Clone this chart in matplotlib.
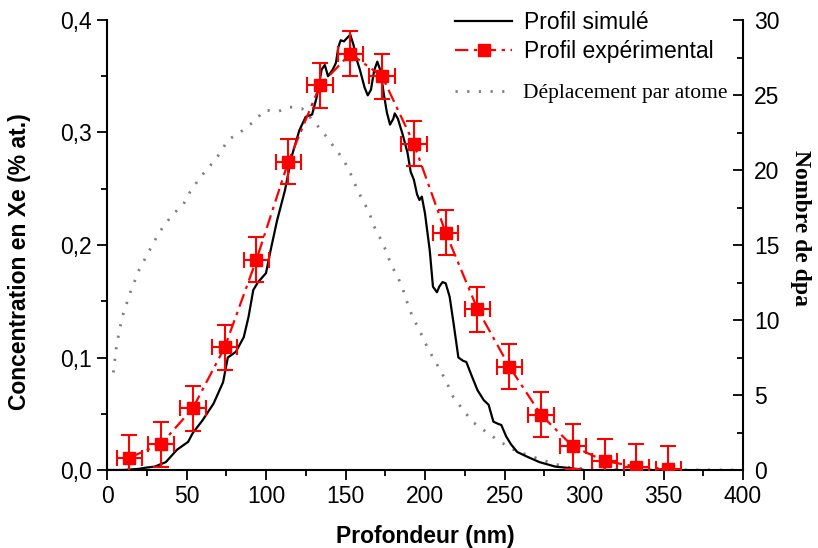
import matplotlib
matplotlib.use("Agg")
import matplotlib.pyplot as plt
from matplotlib.lines import Line2D
from matplotlib.ticker import MultipleLocator, FuncFormatter

# ---------------- data ----------------
sim_x = [0, 10, 20, 24, 30, 37, 44, 51, 54, 60, 67, 73, 76, 81, 86, 89, 92, 95, 100, 103,
         107, 112, 116, 121, 125, 129, 132, 135, 137, 139, 142, 144, 145.5, 147, 149, 151,
         153, 155, 157, 159, 162, 164, 166, 168, 170, 172, 174, 176, 178, 180, 181, 183,
         186, 189, 191, 193, 195, 196.5, 198, 200, 203, 205, 207.5, 209, 211, 213, 215.5,
         218, 221, 224, 226, 229, 233, 237, 240, 243, 246, 248, 251, 254, 258, 264, 272,
         282, 289, 295, 300]
sim_y = [0, 0, 0.001, 0.002, 0.003, 0.007, 0.018, 0.025, 0.033, 0.044, 0.059, 0.078, 0.100,
         0.105, 0.118, 0.136, 0.160, 0.167, 0.175, 0.196, 0.222, 0.249, 0.278, 0.302, 0.314,
         0.316, 0.332, 0.356, 0.360, 0.350, 0.356, 0.362, 0.376, 0.382, 0.381, 0.384, 0.387,
         0.378, 0.365, 0.356, 0.340, 0.333, 0.338, 0.355, 0.363, 0.355, 0.335, 0.318, 0.307,
         0.312, 0.317, 0.312, 0.298, 0.282, 0.265, 0.258, 0.245, 0.240, 0.243, 0.228, 0.195,
         0.163, 0.158, 0.163, 0.167, 0.166, 0.154, 0.130, 0.100, 0.097, 0.096, 0.085, 0.071,
         0.062, 0.058, 0.043, 0.041, 0.040, 0.030, 0.023, 0.016, 0.012, 0.007, 0.003, 0.002,
         0.001, 0]

exp_x = [14, 34, 54, 74, 94, 114, 134, 153, 173, 193, 213, 233, 253, 273, 293, 313, 333, 353]
exp_y = [0.011, 0.023, 0.055, 0.109, 0.187, 0.274, 0.342, 0.370, 0.350, 0.290, 0.211,
         0.143, 0.092, 0.049, 0.021, 0.008, 0.003, 0.001]
exp_yerr = [0.02] * len(exp_x)
exp_xerr = [8] * len(exp_x)

dpa_x = [4, 6, 9.3, 14.5, 20, 26, 30, 34.6, 41, 48, 52, 58.5, 65, 71, 76, 83.6, 92, 99.4,
         107.5, 115, 122.6, 129.6, 136, 143, 148.7, 153, 156.6, 160.2, 164.8, 167.7, 172.1,
         175.5, 178.6, 183.2, 186.4, 189.1, 192.2, 196.2, 200, 205, 209.4, 213.8, 217.6,
         224, 230, 239, 247, 256.6, 270, 280, 289, 298.7, 320, 350, 395]
dpa_y = [6.5, 8.3, 10.1, 11.8, 13.3, 14.5, 15.3, 16.1, 17.0, 17.7, 18.5, 19.5, 20.3, 21.1,
         22.0, 22.5, 23.2, 24.0, 23.9, 24.2, 24.1, 23.3, 22.5, 21.5, 20.7, 19.8, 18.9, 18.1,
         17.2, 16.3, 15.4, 14.6, 13.7, 12.8, 11.95, 11.07, 10.2, 9.4, 8.5, 7.5, 6.7, 5.8,
         4.9, 4.0, 3.2, 2.5, 1.9, 1.3, 0.8, 0.45, 0.2, 0.1, 0.03, 0.01, 0.0]

labels = ["Profil simulé", "Profil expérimental", "Déplacement par atome"]
xlabel = "Profondeur (nm)"
ylabel = "Concentration en Xe (% at.)"
y2label = "Nombre de dpa"

# ---------------- style ----------------
SANS = ["Liberation Sans", "Arial", "DejaVu Sans"]
SERIF = ["Liberation Serif", "Times New Roman", "DejaVu Serif"]
plt.rcParams["font.family"] = SANS
FS = 16.5

fig = plt.figure(figsize=(8.18, 5.48), dpi=100)
ax = fig.add_axes([107 / 818, 1 - 470 / 548, 636 / 818, 450 / 548])
ax2 = ax.twinx()
ax.set_zorder(ax2.get_zorder() + 1)
ax.patch.set_visible(False)

red = "#ff0000"
grey = "#808080"
dashdot = (0, (6, 2.5, 1.5, 2.5))
dotted = (0, (0.8, 3.4))

ax2.plot(dpa_x, dpa_y, color=grey, lw=2.0, linestyle=dotted)
ax.plot(sim_x, sim_y, color="black", lw=1.6, zorder=3)
ax.errorbar(exp_x, exp_y, yerr=exp_yerr, xerr=exp_xerr, color=red, ecolor=red,
            elinewidth=1.5, capsize=6, capthick=1.5, marker="s", markersize=8,
            linestyle=dashdot, lw=1.6, zorder=4)

ax.set_xlim(0, 400)
ax.set_ylim(0, 0.4)
ax2.set_ylim(0, 30)

for a in (ax, ax2):
    a.spines["top"].set_visible(False)
ax.spines["right"].set_visible(False)
ax2.spines["left"].set_visible(False)
ax2.spines["bottom"].set_visible(False)
for s in ("left", "bottom"):
    ax.spines[s].set_linewidth(1.5)
ax2.spines["right"].set_linewidth(1.5)

ax.xaxis.set_major_locator(MultipleLocator(50))
ax.xaxis.set_minor_locator(MultipleLocator(25))
ax.yaxis.set_major_locator(MultipleLocator(0.1))
ax.yaxis.set_minor_locator(MultipleLocator(0.05))
ax.yaxis.set_major_formatter(FuncFormatter(lambda v, p: f"{v:.1f}".replace(".", ",")))
ax2.yaxis.set_major_locator(MultipleLocator(5))
ax2.yaxis.set_minor_locator(MultipleLocator(2.5))

ax.tick_params(axis="both", which="major", direction="out", length=7, width=1.3,
               labelsize=FS, pad=4)
ax.tick_params(axis="both", which="minor", direction="out", length=4, width=1.3)
ax2.tick_params(axis="y", which="major", direction="in", length=7, width=1.3,
                labelsize=FS, pad=8)
ax2.tick_params(axis="y", which="minor", direction="in", length=4, width=1.3)

ax.set_xlabel(xlabel, fontsize=FS, fontweight="bold", labelpad=12)
ax.set_ylabel(ylabel, fontsize=FS, fontweight="bold", va="center")
ax.yaxis.set_label_coords(-0.137, 0.462)
ax2.set_ylabel(y2label, fontsize=FS + 0.5, fontweight="bold", family=SERIF,
               rotation=270, va="center")
ax2.yaxis.set_label_coords(1.09, 0.538)

# legend
h1 = Line2D([], [], color="black", lw=1.6)
h2 = Line2D([], [], color=red, lw=1.6, marker="s", markersize=8, linestyle=dashdot)
h3 = Line2D([], [], color=grey, lw=2.0, linestyle=dotted)
leg1 = ax.legend([h1, h2], labels[:2], loc="upper left",
                 bbox_to_anchor=(0.547, 1.02), frameon=False, fontsize=FS,
                 borderpad=0, borderaxespad=0, handlelength=2.5, handletextpad=0.5,
                 labelspacing=0.25)
ax.add_artist(leg1)
leg2 = ax.legend([h3], labels[2:], loc="upper left", bbox_to_anchor=(0.547, 0.86),
                 frameon=False, prop={"family": SERIF, "size": FS - 1},
                 borderpad=0, borderaxespad=0, handlelength=2.7, handletextpad=0.45)

fig.savefig("out.png", dpi=100)
